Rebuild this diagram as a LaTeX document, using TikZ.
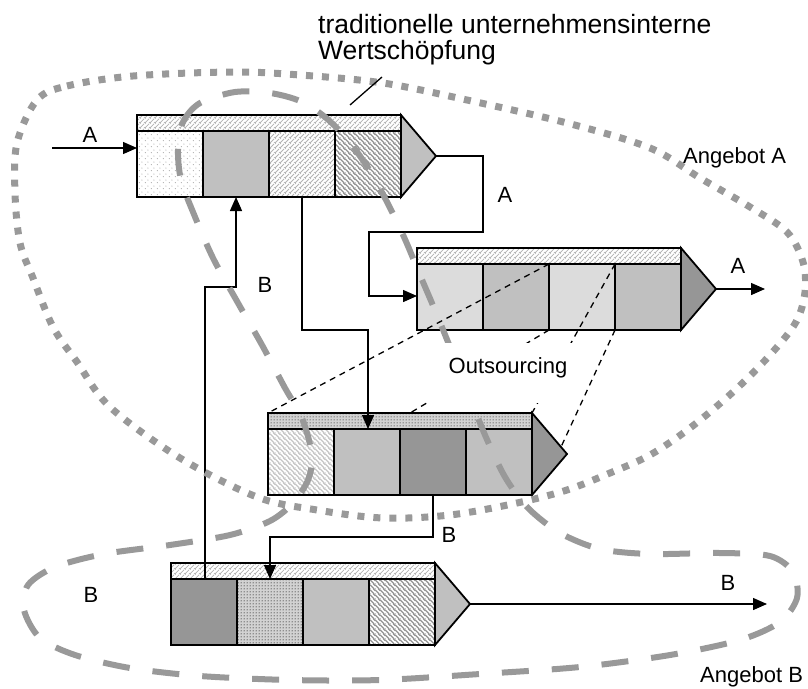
\documentclass[tikz,border=0pt]{standalone}
\usepackage{fontspec}
\setmainfont{Liberation Sans}
\usetikzlibrary{arrows.meta,patterns.meta,calc}

\definecolor{cL}{HTML}{DCDCDC}
\definecolor{cM}{HTML}{C0C0C0}
\definecolor{cD}{HTML}{969696}
\definecolor{cG}{HTML}{999999}

\tikzdeclarepattern{name=hatchne, type=uncolored,
  bounding box={(0pt,0pt) and (5pt,5pt)}, tile size={(5pt,5pt)},
  code={\draw[line width=0.9pt] (0pt,0pt)--(5pt,5pt) (-1pt,4pt)--(1pt,6pt) (4pt,-1pt)--(6pt,1pt);}}
\tikzdeclarepattern{name=hatchnw, type=uncolored,
  bounding box={(0pt,0pt) and (5pt,5pt)}, tile size={(5pt,5pt)},
  code={\draw[line width=1.5pt] (0pt,5pt)--(5pt,0pt) (-1pt,1pt)--(1pt,-1pt) (4pt,6pt)--(6pt,4pt);}}
\tikzdeclarepattern{name=sparsedots, type=uncolored,
  bounding box={(0pt,0pt) and (6pt,6pt)}, tile size={(6pt,6pt)},
  code={\fill (1.5pt,1.5pt) circle (0.6pt); \fill (4.5pt,4.5pt) circle (0.6pt);}}
\tikzdeclarepattern{name=densedots, type=uncolored,
  bounding box={(0pt,0pt) and (3pt,3pt)}, tile size={(3pt,3pt)},
  code={\fill (1.5pt,1.5pt) circle (0.8pt);}}

\tikzset{
  cellbox/.style={draw, line width=1.8pt, inner sep=0pt, outer sep=0pt,
    minimum width=66pt, minimum height=66pt, anchor=north west},
  hdrbox/.style={draw, line width=1.8pt, inner sep=0pt, outer sep=0pt,
    minimum width=264pt, minimum height=16pt, anchor=north west},
  pNE/.style={preaction={fill=white}, preaction={pattern=hatchne, pattern color=gray!60}},
  pNW/.style={preaction={fill=white}, preaction={pattern=hatchnw, pattern color=gray!85}},
  pNWl/.style={preaction={fill=white}, preaction={pattern=hatchnw, pattern color=gray!45}},
  pSD/.style={preaction={fill=white}, preaction={pattern=sparsedots, pattern color=gray!75}},
  pDD/.style={preaction={fill=gray!35}, preaction={pattern=densedots, pattern color=black!70}},
  tipfill/.style={draw, line width=1.8pt, line join=miter},
  conn/.style={draw, line width=1.4pt, -{Triangle[length=14pt,width=12pt]}},
  thindash/.style={draw, line width=1.3pt, dash pattern=on 6pt off 5pt},
  grayDots/.style={draw=cG, line width=7pt, dash pattern=on 7pt off 9pt},
  grayDash/.style={draw=cG, line width=6pt, dash pattern=on 27pt off 23pt},
  lbl/.style={font=\fontsize{22}{26}\selectfont, inner sep=0pt, anchor=base},
  lblw/.style={font=\fontsize{22}{26}\selectfont, inner sep=0pt, anchor=base west},
  ttl/.style={font=\fontsize{26.5}{30}\selectfont, inner sep=0pt, anchor=base west},
}

\newcommand{\mkblock}[9]{%
  \node[hdrbox,#4] (#1h) at (#2,#3) {};
  \node[cellbox,#5] (#1c1) at (#1h.south west) {};
  \node[cellbox,#6] (#1c2) at (#1c1.north east) {};
  \node[cellbox,#7] (#1c3) at (#1c2.north east) {};
  \node[cellbox,#8] (#1c4) at (#1c3.north east) {};
  \coordinate (#1t) at ($(#1h.north east)!0.5!(#1c4.south east) + (35pt,0pt)$);
  \path[tipfill, fill=#9] (#1h.north east) -- (#1t) -- (#1c4.south east) -- cycle;
}

\begin{document}
\begin{tikzpicture}[x=1pt,y=-1pt]
\useasboundingbox (0,0) rectangle (808,688);

% blocks
\mkblock{ba}{137}{115}{pNE}{pSD}{fill=cM}{pNE}{pNW}{cM}
\mkblock{bb}{417}{248}{pNE}{fill=cL}{fill=cM}{fill=cL}{fill=cM}{cD}
\mkblock{bc}{268}{413}{pDD}{pNWl}{fill=cM}{fill=cD}{fill=cM}{cD}
\mkblock{bd}{171}{563}{pNE}{fill=cD}{pDD}{fill=cM}{pNW}{cM}

% connectors
\coordinate (ain) at (52,148);
\draw[conn] (ain) -- (ain -| bac1.west);
\node[lbl] (la1) at (90,142) {A};

\coordinate (k1) at (483,232);
\coordinate (k2) at (369,296);
\draw[conn] (bat) -| (k1) -| (k2) -- (k2 -| bbc1.west);
\node[lbl] (la2) at (505,202) {A};

\coordinate (k3) at (368,330);
\draw[conn] (bac3.south) |- (k3) -- (k3 |- bcc1.north);

\coordinate (k4) at (205,287);
\draw[conn] (k4 |- bdc1.north) -- (k4) -| (bac2.south);
\node[lbl] (lb1) at (265,292) {B};

\coordinate (k5) at (270,537);
\draw[conn] (bcc3.south) |- (k5) -- (k5 |- bdc2.north);
\node[lbl] (lb2) at (449,542) {B};

\coordinate (aout) at (765,289);
\draw[conn] (bbt) -- (aout);
\node[lbl] (la3) at (738,273) {A};

\coordinate (bout) at (767,604);
\draw[conn] (bdt) -- (bout);
\node[lbl] (lb3) at (728,590) {B};
\node[lbl] (lb4) at (91,602) {B};

% outsourcing projection lines
\draw[thindash] (bbc3.north west) -- (bch.north west);
\coordinate (d2) at (410,413);
\draw[thindash] (bbc3.south west) -- (d2);
\draw[thindash] (bbc4.north west) -- (bch.north east);
\coordinate (d4) at (561,447);
\draw[thindash] (bbc4.south west) -- (d4);

% Angebot A (dotted)
\draw[grayDots] plot[smooth cycle, tension=0.55] coordinates {
 (37,100) (67,86) (133,76) (233,72) (300,75) (383,83) (467,100) (567,123)
 (650,148) (700,178) (750,207) (787,232) (803,262) (805,292) (796,322)
 (770,355) (733,392) (690,428) (650,455) (610,473) (567,490) (517,503)
 (450,515) (383,518) (317,510) (257,497) (180,458) (110,407) (77,362)
 (53,327) (33,278) (20,243) (15,193) (17,143)};

% traditionelle Wertschoepfung + Angebot B (dashed)
\draw[grayDash] plot[smooth cycle, tension=0.5] coordinates {
 (178,150) (183,122) (200,103) (235,92) (270,93) (300,101) (325,117)
 (348,140) (368,168) (386,200) (404,237) (420,275) (437,315) (452,352)
 (468,392) (485,435) (505,477) (528,508) (560,533) (600,549) (650,554)
 (720,553) (770,556) (793,572) (797,598) (780,622) (740,640) (670,655)
 (580,667) (480,674) (380,680) (290,680) (200,676) (130,668) (75,655)
 (40,638) (24,610) (28,585) (55,567) (104,554) (170,545) (230,535)
 (270,521) (293,503) (308,480) (312,455) (302,418) (285,388) (262,345)
 (238,303) (213,258) (193,212) (181,180)};

% Outsourcing label
\node[fill=white, draw=none, inner sep=0pt, minimum width=145pt, minimum height=60pt] (omask) at (502,373) {};
\node[lbl] (outs) at (508,373) {Outsourcing};

% titles
\node[ttl] (t1) at (318,33) {traditionelle unternehmensinterne};
\node[ttl] (t2) at (318,59) {Wertschöpfung};
\coordinate (s1) at (350,105);
\coordinate (s2) at (382,77);
\draw[line width=1.3pt] (s1) -- (s2);

\node[lblw] (angA) at (683,163) {Angebot A};
\node[lblw] (angB) at (700,682) {Angebot B};
\end{tikzpicture}
\end{document}
